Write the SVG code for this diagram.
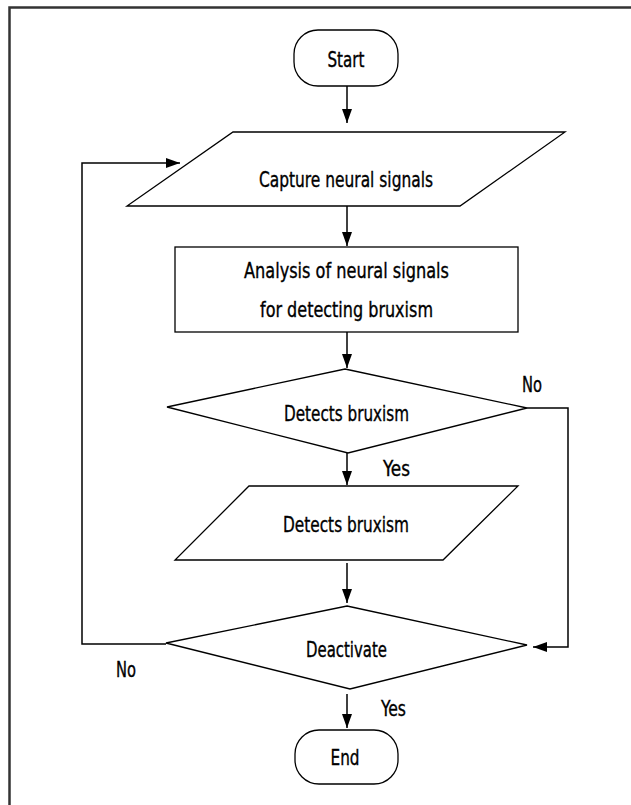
<svg xmlns="http://www.w3.org/2000/svg" width="631" height="805" viewBox="0 0 631 805">
<style>
.shape{fill:#fff;stroke:#000;stroke-width:1.3}
.conn{fill:none;stroke:#000;stroke-width:1.5}
text{font-family:"DejaVu Sans Condensed","Liberation Sans Narrow","DejaVu Sans",sans-serif;font-stretch:condensed;font-size:21px;fill:#000;stroke:#000;stroke-width:0.35;text-anchor:middle}
.lbl{text-anchor:start}
</style>
<defs>
<marker id="arr" viewBox="0 0 14 10" refX="14" refY="5" markerWidth="14" markerHeight="11" markerUnits="userSpaceOnUse" orient="auto">
<path d="M0,0 L14,5 L0,10 Z" fill="#000"/>
</marker>
</defs>
<rect width="631" height="805" fill="#fff"/>
<path d="M9.5,805 L9.5,7.5 L631,7.5" fill="none" stroke="#333" stroke-width="2.5"/>
<g id="connectors">
<line class="conn" x1="347" y1="86" x2="347" y2="123" marker-end="url(#arr)"/>
<line class="conn" x1="347" y1="206" x2="347" y2="246" marker-end="url(#arr)"/>
<line class="conn" x1="347" y1="332" x2="347" y2="368" marker-end="url(#arr)"/>
<line class="conn" x1="347" y1="453" x2="347" y2="485" marker-end="url(#arr)"/>
<line class="conn" x1="347" y1="563" x2="347" y2="603" marker-end="url(#arr)"/>
<line class="conn" x1="347" y1="694" x2="347" y2="728" marker-end="url(#arr)"/>
<polyline class="conn" points="166,644 82,644 82,163 180,163" marker-end="url(#arr)"/>
<polyline class="conn" points="527,408 568,408 568,647 533,647" marker-end="url(#arr)"/>
<text class="lbl" x="522" y="392" textLength="20" lengthAdjust="spacingAndGlyphs">No</text>
<text class="lbl" x="383" y="476" textLength="27" lengthAdjust="spacingAndGlyphs">Yes</text>
<text class="lbl" x="116" y="677" textLength="20" lengthAdjust="spacingAndGlyphs">No</text>
<text class="lbl" x="381" y="716" textLength="25" lengthAdjust="spacingAndGlyphs">Yes</text>
</g>
<g id="start">
<rect class="shape" x="294" y="30" width="104" height="56" rx="24" ry="24"/>
<text x="346" y="67" textLength="37" lengthAdjust="spacingAndGlyphs">Start</text>
</g>
<g id="capture">
<polygon class="shape" points="233,132 565,132 460,206 127,206"/>
<text x="346" y="187" textLength="174" lengthAdjust="spacingAndGlyphs">Capture neural signals</text>
</g>
<g id="analysis">
<rect class="shape" x="175" y="247" width="343" height="85"/>
<text x="346.5" y="278" textLength="205" lengthAdjust="spacingAndGlyphs">Analysis of neural signals</text>
<text x="346.5" y="317" textLength="173" lengthAdjust="spacingAndGlyphs">for detecting bruxism</text>
</g>
<g id="decision1">
<polygon class="shape" points="345,369 527,408 348,453 167,407"/>
<text x="346.5" y="421" textLength="125" lengthAdjust="spacingAndGlyphs">Detects bruxism</text>
</g>
<g id="detects">
<polygon class="shape" points="249,486 518,486 443,560 175,560"/>
<text x="346" y="532" textLength="126" lengthAdjust="spacingAndGlyphs">Detects bruxism</text>
</g>
<g id="decision2">
<polygon class="shape" points="347,606 527,645 350,689 166,643"/>
<text x="346.5" y="657" textLength="81" lengthAdjust="spacingAndGlyphs">Deactivate</text>
</g>
<g id="end">
<rect class="shape" x="295" y="730" width="103" height="54" rx="24" ry="24"/>
<text x="345" y="765" textLength="29" lengthAdjust="spacingAndGlyphs">End</text>
</g>
</svg>
